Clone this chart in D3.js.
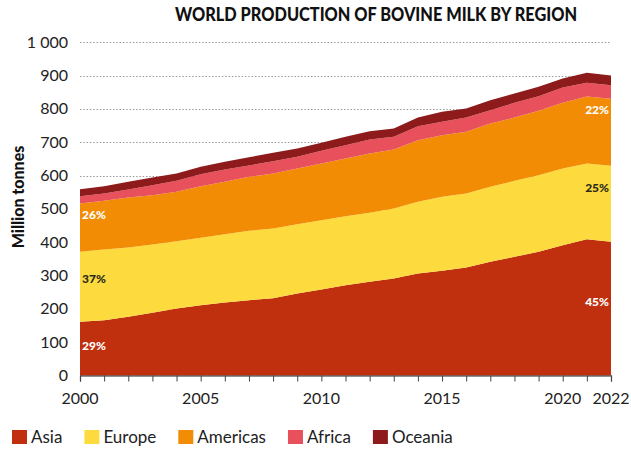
<!DOCTYPE html>
<html><head><meta charset="utf-8">
<script src="https://cdn.jsdelivr.net/npm/d3@7"></script>
<style>
body{margin:0;background:#fff}
svg{display:block}
text{font-family:Lato,"Open Sans",sans-serif}
</style>
</head><body>
<svg id="chart" width="631" height="450"></svg>
<script>
// ---- data (million tonnes) ----
const years    = [2000,2001,2002,2003,2004,2005,2006,2007,2008,2009,2010,2011,2012,2013,2014,2015,2016,2017,2018,2019,2020,2021,2022];
const asia     = [161,166,176,188,201,211,219,226,232,246,258,271,281,291,306,314,324,341,356,371,391,409,401];
const europe   = [210,212,208,205,202,202,205,208,209,208,208,207,207,210,215,222,222,225,228,230,230,227,228];
const americas = [145,146,150,148,148,155,157,162,165,167,170,173,178,177,185,185,185,190,190,193,197,201,201];
const africa   = [22,22,24,30,33,36,37,34,37,35,38,40,42,38,42,40,43,40,44,44,46,41,41];
const oceania  = [21,22,23,23,22,22,23,25,25,25,24,25,25,25,26,30,27,30,28,28,27,30,29];
const regions  = ["Asia","Europe","Americas","Africa","Oceania"];
const colors   = ["#C1300E","#FDDA3D","#F28C05","#E8505B","#8E1B1C"];
const yTicks   = [0,100,200,300,400,500,600,700,800,900,1000];
const yTickLabels = ["0","100","200","300","400","500","600","700","800","900","1 000"];
const xTickLabels = [2000,2005,2010,2015,2020,2022];
const startShares = ["29%","37%","26%"];
const endShares   = ["45%","25%","22%"];
const title = "WORLD PRODUCTION OF BOVINE MILK BY REGION";
const yTitle = "Million tonnes";

const series = [asia, europe, americas, africa, oceania];
const rows = years.map((yr,i)=>{
  const r = {year:yr};
  regions.forEach((k,j)=>{ r[k] = series[j][i]; });
  return r;
});

const svg = d3.select("#chart");
const x = d3.scaleLinear().domain([2000,2022]).range([80,611]);
const y = d3.scaleLinear().domain([0,1000]).range([375.5,42.2]);

// gridlines
svg.append("g").selectAll("line").data(yTicks.filter(v=>v>0)).join("line")
  .attr("x1",80).attr("x2",611)
  .attr("y1",d=>Math.round(y(d))+0.5).attr("y2",d=>Math.round(y(d))+0.5)
  .attr("stroke","#9a9a9a").attr("stroke-width",1).attr("stroke-dasharray","1.5,1.8");

// stacked areas
const stack = d3.stack().keys(regions)(rows);
const area = d3.area().x(d=>x(d.data.year)).y0(d=>y(d[0])).y1(d=>y(d[1]));
svg.append("g").selectAll("path").data(stack).join("path")
  .attr("d",area).attr("fill",(d,i)=>colors[i]);

// x axis
const xAxis = d3.axisBottom(x).tickValues(years).tickSize(6).tickFormat("");
const gx = svg.append("g").attr("transform","translate(0,375.5)").call(xAxis);
gx.select(".domain").attr("stroke","#222").attr("stroke-width",1.2);
gx.selectAll(".tick line").attr("stroke","#444");
svg.append("g").selectAll("text").data(xTickLabels).join("text")
  .attr("x",d=>x(d)).attr("y",404).attr("text-anchor","middle")
  .attr("font-size",16).attr("fill","#222").text(d=>d);

// y axis labels
const yAxis = d3.axisLeft(y).tickValues(yTicks).tickSize(0)
  .tickFormat((d,i)=>yTickLabels[i]);
const gy = svg.append("g").attr("transform","translate(71,0)").call(yAxis);
gy.select(".domain").remove();
gy.selectAll("text").attr("font-size",16).attr("fill","#222")
  .attr("font-family","Lato, sans-serif").attr("dx",0);

// y title
svg.append("text").attr("transform","translate(24,197) rotate(-90)")
  .attr("text-anchor","middle").attr("font-size",16).attr("font-weight",900)
  .attr("fill","#111").text(yTitle);

// title
svg.append("text").attr("x",376).attr("y",21).attr("text-anchor","middle")
  .attr("font-size",18.5).attr("font-weight",900).attr("fill","#111")
  .attr("textLength",402).attr("lengthAdjust","spacingAndGlyphs").text(title);

// share labels
const labelFrac = [[0.55,0.61,0.77],[0.55,0.71,0.83]];
const labelCol = ["#fff","#2b2a18","#fff"];
[0,1,2].forEach(j=>{
  const s = stack[j];
  const a = s[0], b = s[s.length-1];
  svg.append("text").attr("x",82).attr("y",y(a[0]+(a[1]-a[0])*labelFrac[0][j])+4)
    .attr("font-size",12).attr("font-weight",900).attr("fill",labelCol[j]).text(startShares[j]);
  svg.append("text").attr("x",609).attr("y",y(b[0]+(b[1]-b[0])*labelFrac[1][j])+4)
    .attr("text-anchor","end")
    .attr("font-size",12).attr("font-weight",900).attr("fill",labelCol[j]).text(endShares[j]);
});

// legend
const lg = svg.append("g").attr("transform","translate(12,430)");
let lx = 0;
regions.forEach((r,i)=>{
  const g = lg.append("g").attr("transform",`translate(${lx},0)`);
  g.append("rect").attr("width",15).attr("height",14).attr("fill",colors[i]);
  const t = g.append("text").attr("x",19).attr("y",13).attr("font-size",17)
    .attr("fill","#222").text(r);
  lx += 19 + t.node().getComputedTextLength() + 22;
});
</script>
</body></html>
